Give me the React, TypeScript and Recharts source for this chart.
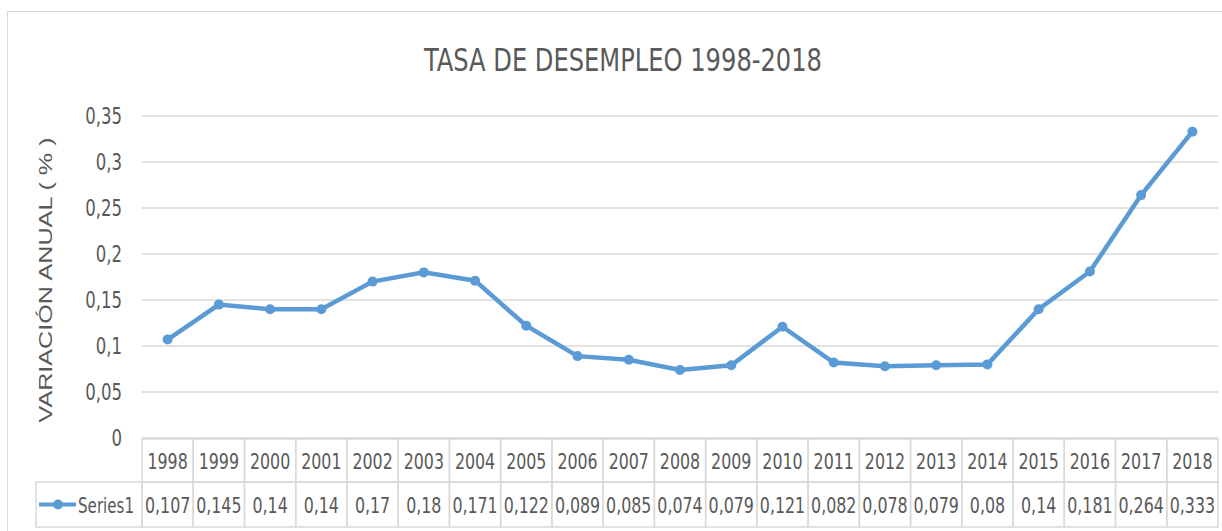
import React from 'react';
import { LineChart, Line, XAxis, YAxis, CartesianGrid } from 'recharts';

const years = [
  '1998', '1999', '2000', '2001', '2002', '2003', '2004', '2005', '2006', '2007', '2008',
  '2009', '2010', '2011', '2012', '2013', '2014', '2015', '2016', '2017', '2018',
];
const series1 = [
  0.107, 0.145, 0.14, 0.14, 0.17, 0.18, 0.171, 0.122, 0.089, 0.085, 0.074,
  0.079, 0.121, 0.082, 0.078, 0.079, 0.08, 0.14, 0.181, 0.264, 0.333,
];
const yTicks = [0, 0.05, 0.1, 0.15, 0.2, 0.25, 0.3, 0.35];

const data = years.map((year, i) => ({ year, value: series1[i] }));

const W = 1222;
const H = 531;
const PLOT_LEFT = 142;
const PLOT_RIGHT = 1218;
const CELL = (PLOT_RIGHT - PLOT_LEFT) / years.length;
const GRAY = '#595959';
const BORDER = '#d9d9d9';
const BLUE = '#5b9bd5';
const NARROW = "'Liberation Sans Narrow', 'DejaVu Sans Condensed', sans-serif";

const fmt = (v: number) => String(v).replace('.', ',');

// squeezed text, to look like the condensed font of the original
function Narrow({ x, y, anchor = 'middle', size = 22, children }: any) {
  return (
    <text
      transform={`translate(${x},${y}) scale(0.8,1)`}
      textAnchor={anchor}
      fill={GRAY}
      fontSize={size}
      fontFamily={NARROW}
    >
      {children}
    </text>
  );
}

function YTick(props: any) {
  const { x, y, payload } = props;
  return (
    <Narrow x={x} y={y + 8} anchor="end" size={23}>
      {fmt(payload.value)}
    </Narrow>
  );
}

function TableTick(props: any) {
  const { x, y, payload } = props;
  const idx = years.indexOf(String(payload.value));
  const left = x - CELL / 2;
  const top = y + 1;
  const rowH = 43;
  const valTop = top + rowH;
  const valH = 45;
  const mid = valTop + valH / 2;
  return (
    <g>
      <rect x={left} y={top} width={CELL} height={rowH} fill="none" stroke={BORDER} strokeWidth={1.5} />
      <rect x={left} y={valTop} width={CELL} height={valH} fill="none" stroke={BORDER} strokeWidth={1.5} />
      <Narrow x={x} y={top + rowH / 2 + 8}>{payload.value}</Narrow>
      <Narrow x={x} y={mid + 8}>{fmt(series1[idx])}</Narrow>
      {idx === 0 && (
        <g>
          <rect x={36} y={valTop} width={left - 36} height={valH} fill="none" stroke={BORDER} strokeWidth={1.5} />
          <line x1={39} x2={76} y1={mid} y2={mid} stroke={BLUE} strokeWidth={4} />
          <circle cx={58} cy={mid} r={5} fill={BLUE} />
          <Narrow x={78} y={mid + 8} anchor="start" size={21}>Series1</Narrow>
        </g>
      )}
    </g>
  );
}

export default function App() {
  return (
    <div style={{ position: 'absolute', left: 0, top: 0, width: W, height: H, overflow: 'hidden', background: '#fff' }}>
      <div
        style={{
          position: 'absolute',
          left: 7,
          top: 11,
          width: W + 20,
          height: H + 20,
          border: `1.5px solid ${BORDER}`,
        }}
      />
      <svg width={W} height={H} style={{ position: 'absolute', left: 0, top: 0, pointerEvents: 'none' }}>
        <text
          x={623}
          y={71}
          textAnchor="middle"
          fill={GRAY}
          fontSize={32}
          fontFamily={NARROW}
          textLength={398}
          lengthAdjust="spacingAndGlyphs"
        >
          TASA DE DESEMPLEO 1998-2018
        </text>
        <text
          transform="translate(52, 280) rotate(-90)"
          textAnchor="middle"
          fill={GRAY}
          fontSize={19}
          fontFamily="'Liberation Sans', sans-serif"
          textLength={285}
          lengthAdjust="spacingAndGlyphs"
        >
          VARIACIÓN  ANUAL ( % )
        </text>
      </svg>
      <div style={{ position: 'absolute', left: 0, top: 0 }}>
        <LineChart
          width={W}
          height={H}
          data={data}
          margin={{ top: 116, right: W - PLOT_RIGHT, bottom: 4, left: 0 }}
        >
          <CartesianGrid vertical={false} stroke={BORDER} strokeWidth={1.5} />
          <XAxis
            dataKey="year"
            height={89}
            axisLine={false}
            tickLine={false}
            tickSize={0}
            tickMargin={0}
            interval={0}
            padding={{ left: CELL / 2, right: CELL / 2 }}
            tick={<TableTick />}
          />
          <YAxis
            width={PLOT_LEFT}
            domain={[0, 0.35]}
            ticks={yTicks}
            axisLine={false}
            tickLine={false}
            tickMargin={14}
            tick={<YTick />}
          />
          <Line
            dataKey="value"
            stroke={BLUE}
            strokeWidth={4.5}
            dot={{ r: 5, fill: BLUE, stroke: BLUE, strokeWidth: 0 }}
            isAnimationActive={false}
          />
        </LineChart>
      </div>
    </div>
  );
}
